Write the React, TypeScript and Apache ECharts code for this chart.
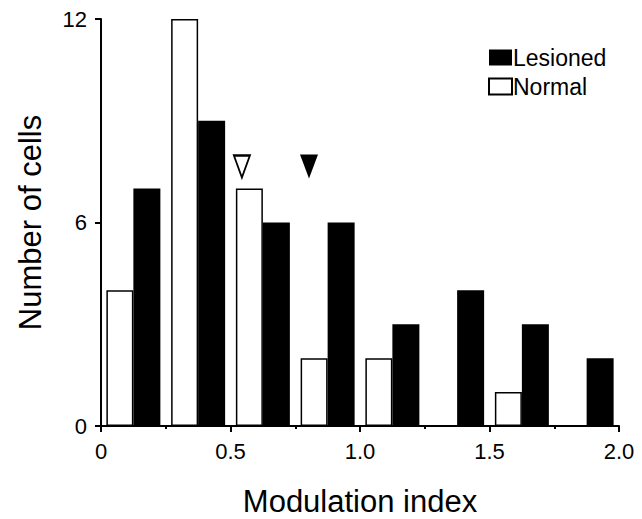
import React, { useEffect, useRef } from "react";
import * as echarts from "echarts";

const binCenters = [0.125, 0.375, 0.625, 0.875, 1.125, 1.375, 1.625, 1.875];
const normalCounts = [4, 12, 7, 2, 2, 0, 1, 0];
const lesionedCounts = [7, 9, 6, 6, 3, 4, 3, 2];
const normalMean = 0.544;
const lesionedMean = 0.803;
const markerLevel = 7.65;
const xTickLabels = ["0", "0.5", "1.0", "1.5", "2.0"];
const yTickValues = [0, 6, 12];

const FONT = "'Liberation Sans', Arial, Helvetica, sans-serif";

export default function App() {
  const ref = useRef<HTMLDivElement>(null);
  useEffect(() => {
    document.body.style.margin = "0";
    if (!ref.current) return;
    const chart = echarts.init(ref.current, null, { renderer: "svg" });
    chart.setOption({
      animation: false,
      backgroundColor: "#ffffff",
      grid: {
        left: 101,
        right: 23,
        top: 19,
        bottom: 93,
        containLabel: false,
        outerBoundsMode: "none",
      },
      legend: {
        orient: "vertical",
        left: 483,
        top: 41,
        itemWidth: 23,
        itemHeight: 16,
        itemGap: 6,
        icon: "rect",
        data: ["Lesioned", "Normal"],
        textStyle: { fontFamily: FONT, fontSize: 23, color: "#000", padding: [0, 0, 0, -4] },
      },
      xAxis: {
        type: "value",
        min: 0,
        max: 2,
        interval: 0.5,
        name: "Modulation index",
        nameLocation: "middle",
        nameGap: 60,
        nameTextStyle: { fontFamily: FONT, fontSize: 31, lineHeight: 30, color: "#000" },
        axisLine: { show: true, lineStyle: { color: "#000", width: 2 } },
        axisTick: { show: true, length: 6, inside: false, lineStyle: { color: "#000", width: 2 } },
        minorTick: { show: true, splitNumber: 2, length: 3, lineStyle: { color: "#000", width: 2 } },
        splitLine: { show: false },
        axisLabel: {
          fontFamily: FONT,
          fontSize: 22,
          color: "#000",
          margin: 14,
          formatter: (v: number, i: number) => xTickLabels[i] ?? String(v),
        },
      },
      yAxis: {
        type: "value",
        min: 0,
        max: 12,
        interval: 6,
        name: "Number of cells",
        nameLocation: "middle",
        nameGap: 55,
        nameTextStyle: { fontFamily: FONT, fontSize: 31, color: "#000" },
        axisLine: { show: true, lineStyle: { color: "#000", width: 2 } },
        axisTick: { show: true, length: 6, lineStyle: { color: "#000", width: 2 } },
        splitLine: { show: false },
        axisLabel: {
          fontFamily: FONT,
          fontSize: 22,
          color: "#000",
          margin: 14,
          formatter: (v: number) => (yTickValues.includes(v) ? String(v) : ""),
        },
      },
      series: [
        {
          name: "Normal",
          type: "bar",
          barWidth: 27,
          barGap: "0%",
          data: binCenters.map((x, i) => [x, normalCounts[i]]),
          itemStyle: { color: "#ffffff", borderColor: "#000000", borderWidth: 1.5, opacity: 1 },
        },
        {
          name: "Lesioned",
          type: "bar",
          barWidth: 27,
          barGap: "0%",
          data: binCenters.map((x, i) => [x, lesionedCounts[i]]),
          itemStyle: { color: "#000000", borderColor: "#000000", borderWidth: 0, opacity: 1 },
        },
        {
          name: "meanNormal",
          type: "scatter",
          symbol: "triangle",
          symbolRotate: 180,
          symbolSize: [16, 22],
          data: [[normalMean, markerLevel]],
          itemStyle: { color: "#ffffff", borderColor: "#000000", borderWidth: 2, opacity: 1 },
          z: 5,
        },
        {
          name: "meanLesioned",
          type: "scatter",
          symbol: "triangle",
          symbolRotate: 180,
          symbolSize: [18, 24],
          data: [[lesionedMean, markerLevel]],
          itemStyle: { color: "#000000", opacity: 1 },
          z: 5,
        },
      ],
    });
    return () => chart.dispose();
  }, []);
  return <div ref={ref} style={{ width: 642, height: 519 }} />;
}
